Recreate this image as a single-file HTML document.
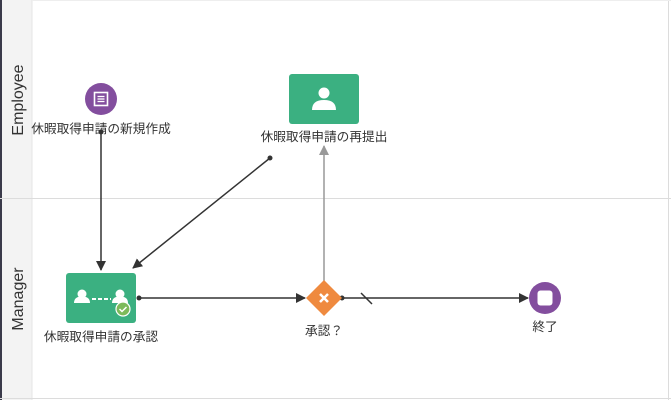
<!DOCTYPE html>
<html><head><meta charset="utf-8"><style>
body{margin:0;width:671px;height:400px;background:#fff;overflow:hidden}
svg{display:block}
text{font-family:"Liberation Sans","Noto Sans CJK JP",sans-serif;fill:#333}
</style></head><body>
<svg width="671" height="400" viewBox="0 0 671 400">
<defs>
<marker id="a" markerWidth="10" markerHeight="10" refX="9" refY="5" orient="auto" markerUnits="userSpaceOnUse"><path d="M0,0 L10,5 L0,10 z" fill="#333"/></marker>
<marker id="g" markerWidth="10" markerHeight="10" refX="9" refY="5" orient="auto" markerUnits="userSpaceOnUse"><path d="M0,0 L10,5 L0,10 z" fill="#999"/></marker>
</defs>
<rect x="0" y="0" width="32" height="400" fill="#f3f3f3"/>
<rect x="0" y="0" width="2" height="400" fill="#3a3a4a"/>
<line x1="32" y1="0" x2="32" y2="400" stroke="#e6e6e6"/>
<line x1="0" y1="198.5" x2="671" y2="198.5" stroke="#dcdcdc"/>
<line x1="0" y1="398.5" x2="671" y2="398.5" stroke="#dcdcdc"/>
<line x1="668.5" y1="0" x2="668.5" y2="400" stroke="#dcdcdc"/>
<line x1="32" y1="0.5" x2="671" y2="0.5" stroke="#eee"/>
<text transform="translate(23,100) rotate(-90)" text-anchor="middle" font-size="16">Employee</text>
<text transform="translate(23,299) rotate(-90)" text-anchor="middle" font-size="16">Manager</text>

<line x1="101" y1="132" x2="101" y2="270" stroke="#333" stroke-width="1.5" marker-end="url(#a)"/>
<circle cx="101" cy="132" r="2.5" fill="#333"/>
<line x1="270" y1="158" x2="133" y2="268" stroke="#333" stroke-width="1.5" marker-end="url(#a)"/>
<circle cx="270" cy="158" r="2.5" fill="#333"/>
<line x1="324" y1="281" x2="324" y2="146" stroke="#999" stroke-width="1.5" marker-end="url(#g)"/>
<line x1="139" y1="298" x2="305" y2="298" stroke="#333" stroke-width="1.5" marker-end="url(#a)"/>
<circle cx="139" cy="298" r="2.5" fill="#333"/>
<line x1="342" y1="298" x2="528" y2="298" stroke="#333" stroke-width="1.5" marker-end="url(#a)"/>
<circle cx="342" cy="298" r="2.5" fill="#333"/>
<line x1="361" y1="293" x2="372" y2="304" stroke="#333" stroke-width="1.5"/>

<circle cx="101" cy="99" r="16" fill="#834e9e"/>
<rect x="94.5" y="92.5" width="13" height="13" fill="none" stroke="#fff" stroke-width="1.6"/>
<line x1="97.5" y1="96.5" x2="104.5" y2="96.5" stroke="#fff" stroke-width="1.3"/>
<line x1="97.5" y1="99" x2="104.5" y2="99" stroke="#fff" stroke-width="1.3"/>
<line x1="97.5" y1="101.5" x2="104.5" y2="101.5" stroke="#fff" stroke-width="1.3"/>
<text x="101" y="133" text-anchor="middle" font-size="12.7">休暇取得申請の新規作成</text>

<rect x="289" y="74" width="70" height="50" rx="3" fill="#3bb081"/>
<circle cx="324" cy="93" r="5.5" fill="#fff"/>
<path d="M312,110 q0,-10 12,-10 q12,0 12,10 z" fill="#fff"/>
<text x="324" y="141" text-anchor="middle" font-size="12.7">休暇取得申請の再提出</text>

<rect x="66" y="273" width="70" height="50" rx="3" fill="#3bb081"/>
<circle cx="82" cy="294" r="4.5" fill="#fff"/>
<path d="M74,303 q0,-6.5 8,-6.5 q8,0 8,6.5 z" fill="#fff"/>
<circle cx="120" cy="294" r="4.5" fill="#fff"/>
<path d="M112,303 q0,-6.5 8,-6.5 q8,0 8,6.5 z" fill="#fff"/>
<line x1="92" y1="299" x2="111" y2="299" stroke="#fff" stroke-width="2" stroke-dasharray="4,2"/>
<circle cx="123" cy="309" r="7" fill="#7cba5a" stroke="#fff" stroke-width="1.2"/>
<path d="M119.5,309 l2.5,2.5 l4.5,-4.5" fill="none" stroke="#fff" stroke-width="1.5"/>
<text x="101" y="341" text-anchor="middle" font-size="12.7">休暇取得申請の承認</text>

<path d="M324,280 L342,298 L324,316 L306,298 z" fill="#ef8a3f"/>
<path d="M320,294 l8,8 M328,294 l-8,8" stroke="#fff" stroke-width="2.5"/>
<text x="324" y="335" text-anchor="middle" font-size="12.7">承認？</text>

<circle cx="545" cy="298" r="16" fill="#834e9e"/>
<rect x="537.5" y="290.5" width="15" height="15" rx="3" fill="#fff"/>
<text x="545" y="331" text-anchor="middle" font-size="12.7">終了</text>
</svg>
</body></html>
